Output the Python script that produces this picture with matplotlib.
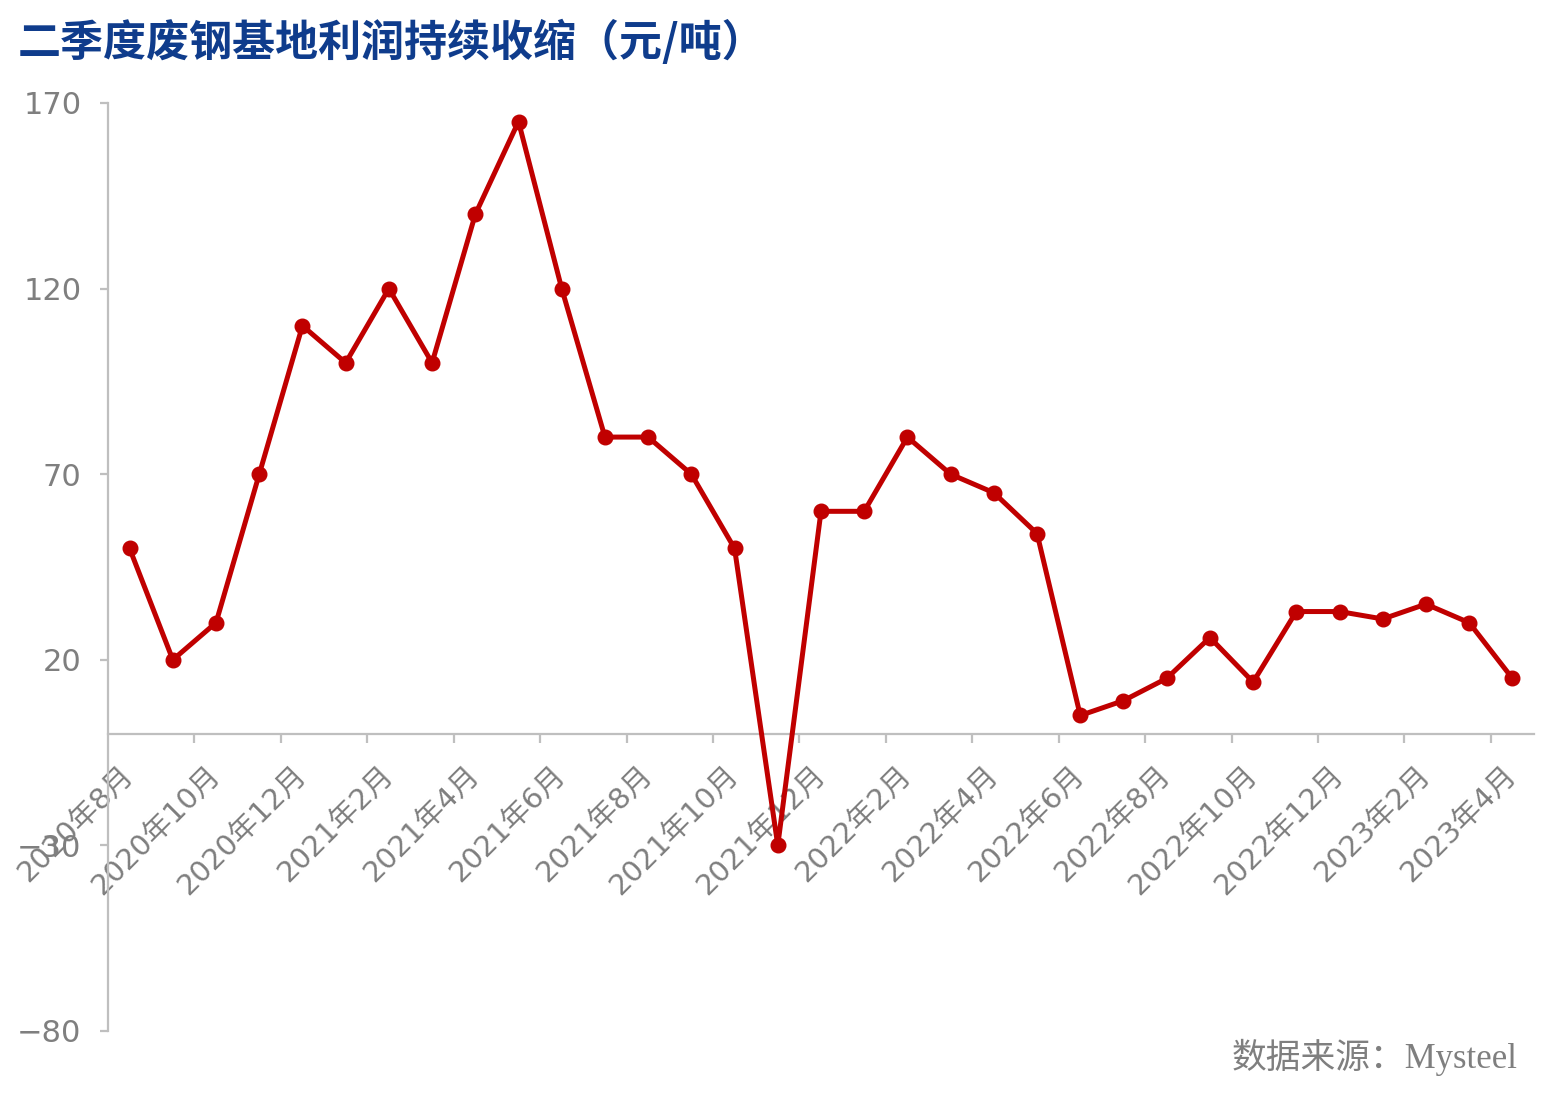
import numpy as np
import matplotlib
matplotlib.use("Agg")
import matplotlib.pyplot as plt

plt.rcParams['font.family'] = ['DejaVu Sans', 'Noto Sans CJK SC']

# monthly scrap-steel base profit, 2020-08 .. 2023-04 (yuan/ton)
months = []
for y in (2020, 2021, 2022, 2023):
    for m in range(1, 13):
        if (y, m) < (2020, 8) or (y, m) > (2023, 4):
            continue
        months.append(f"{y}年{m}月")

profit = [50, 20, 30, 70, 110, 100, 120, 100, 140, 165,
          120, 80, 80, 70, 50, -30, 60, 60, 80, 70,
          65, 54, 5, 9, 15, 26, 14, 33, 33, 31,
          35, 30, 15]

title = "二季度废钢基地利润持续收缩（元/吨）"
source = "数据来源：Mysteel"
yticks = [-80, -30, 20, 70, 120, 170]

gray = '#7F7F7F'
axis_gray = '#BFBFBF'
red = '#C00000'

fig = plt.figure(figsize=(15.51, 10.93), dpi=100)
ax = fig.add_axes([108 / 1551, 1 - 1031 / 1093, 1426 / 1551, 928 / 1093])

x = np.arange(len(profit))
ax.plot(x, profit, color=red, lw=3.6, marker='o', markersize=10.5,
        solid_capstyle='round', zorder=3)

ax.set_xlim(-0.5, len(profit) - 0.5)
ax.set_ylim(-80, 170)
ax.set_yticks(yticks)
ax.set_yticklabels([str(v).replace('-', '\u2212') for v in yticks])

ax.set_axisbelow(True)
for s in ('top', 'right'):
    ax.spines[s].set_visible(False)
ax.spines['bottom'].set_position(('data', 0))
for s in ('left', 'bottom'):
    ax.spines[s].set_color(axis_gray)
    ax.spines[s].set_linewidth(1.6)

# labels every 2 months centred on the category, tick marks on boundaries
ax.set_xticks(x[::2])
ax.set_xticklabels(months[::2])
ax.set_xticks(np.arange(1.5, len(profit) - 1, 2), minor=True)
ax.tick_params(axis='x', which='major', length=0, pad=26, labelsize=21,
               labelcolor=gray)
ax.tick_params(axis='x', which='minor', length=6.5, width=1.6,
               color=axis_gray, direction='out')
ax.tick_params(axis='y', length=6, width=1.6, color=axis_gray, pad=13,
               labelsize=22, labelcolor=gray)
plt.setp(ax.get_xticklabels(), rotation=45, ha='right', va='center',
         rotation_mode='anchor')

fig.text(18 / 1551, 1 - 42 / 1093, title, fontsize=31, fontweight='bold',
         color='#0F3C8C', ha='left', va='center',
         family=['Noto Sans CJK SC'])
fig.text(1518 / 1551, 1 - 1057 / 1093, source, fontsize=25, color=gray,
         ha='right', va='center', family=['Liberation Serif', 'Noto Sans CJK SC'])

fig.savefig('out.png', dpi=100)
